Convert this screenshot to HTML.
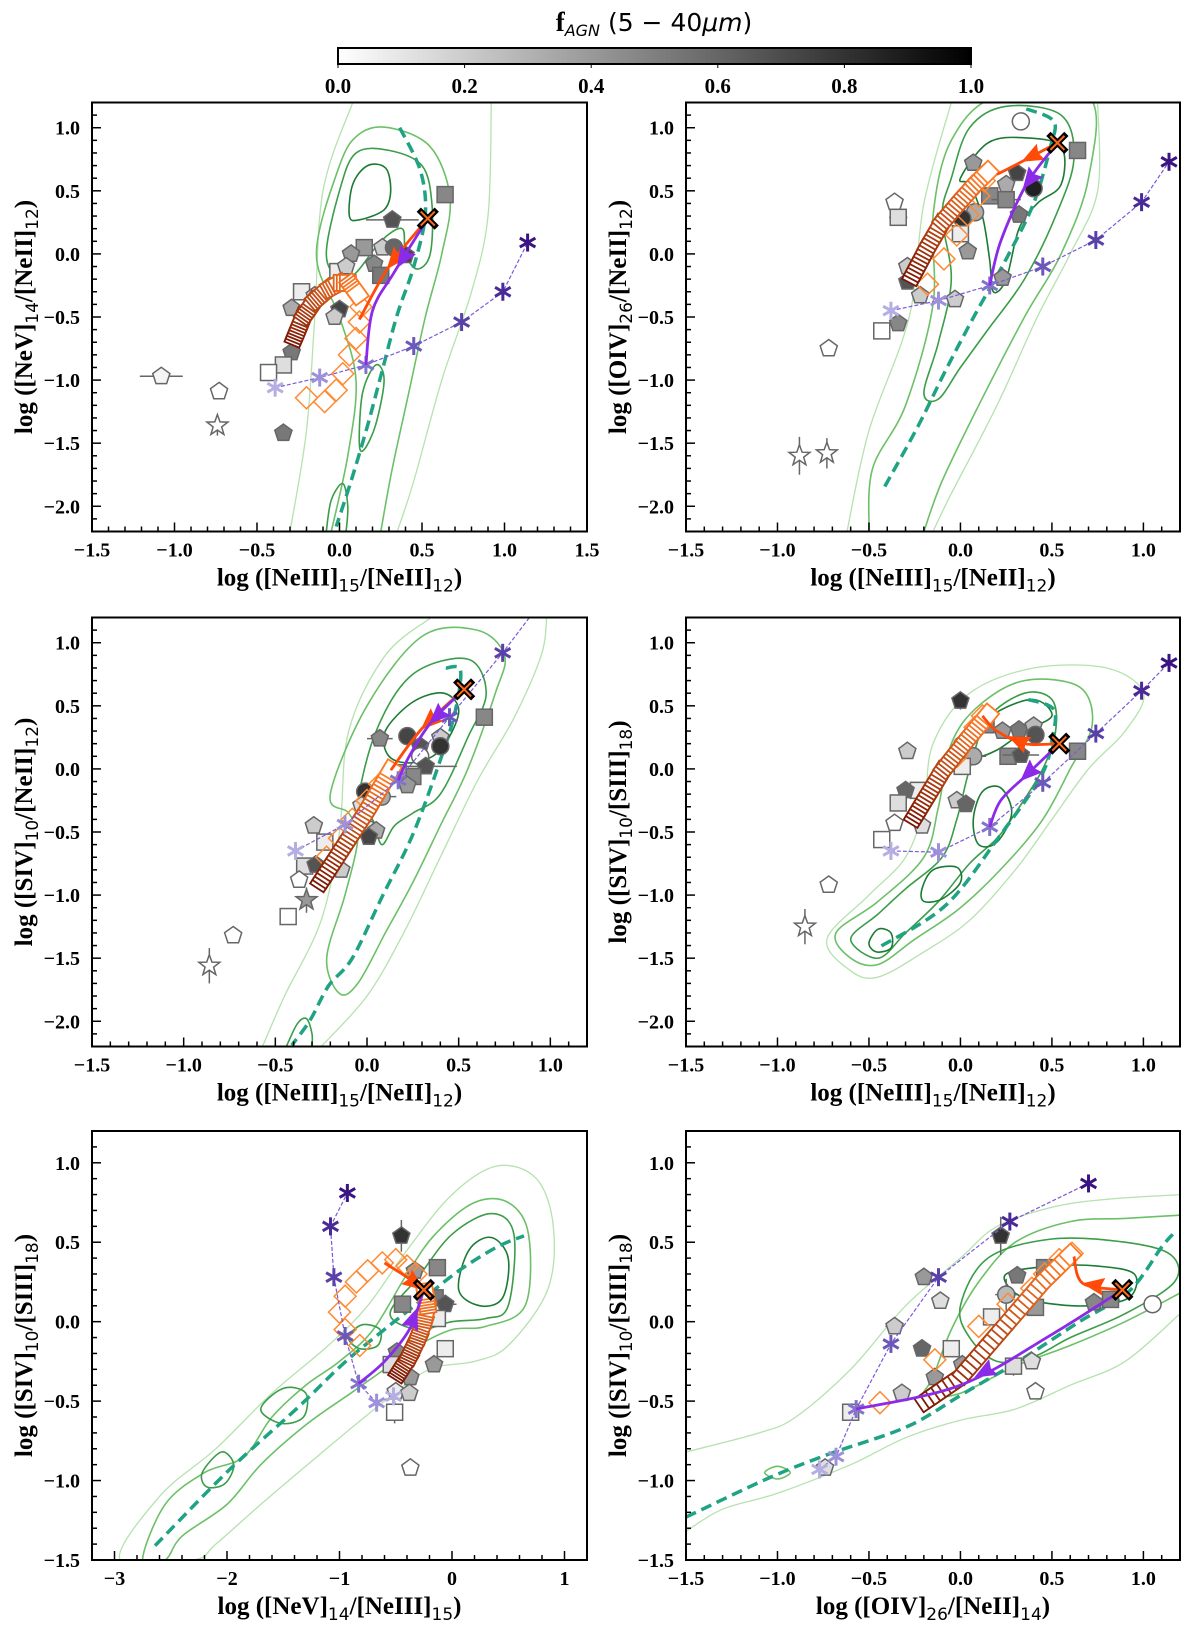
<!DOCTYPE html>
<html><head><meta charset="utf-8">
<style>
html,body{margin:0;padding:0;background:#fff;}
svg{display:block;}
</style></head>
<body>
<svg id="fig" xmlns="http://www.w3.org/2000/svg" width="1200" height="1633" viewBox="0 0 1200 1633">
<defs>
<linearGradient id="cbgrad" x1="0" x2="1" y1="0" y2="0"><stop offset="0" stop-color="#ffffff"/><stop offset="1" stop-color="#000000"/></linearGradient>
</defs>
<g>
<text x="654" y="31" text-anchor="middle" font-family="'DejaVu Sans', sans-serif" font-size="25"><tspan font-family="'Liberation Serif', serif" font-weight="bold" font-size="27">f</tspan><tspan font-style="italic" font-size="16" dy="5">AGN</tspan><tspan dy="-5"> (5 − 40</tspan><tspan font-style="italic">μm</tspan><tspan>)</tspan></text>
<rect x="338" y="48" width="633" height="16" fill="url(#cbgrad)" stroke="#000" stroke-width="2"/>
<g id="cbticks"></g>
</g>
<g id="panels"></g>
</svg>
<script>
// ---------- colorbar ----------
const cbTicks = [0.0, 0.2, 0.4, 0.6, 0.8, 1.0];

// ---------- shared model sequences ----------
const starColors = ['#b5aee3','#9d92da','#8273cc','#6c58bb','#5a40a9','#4a2a96','#3a1482'];

// ---------- Panel 1 data ----------
const p1Gray = [[0.32,0.27,'pent',0.67,0.16,0],[0.64,0.47,'sq',0.47,0,0],[0.15,0.05,'sq',0.4,0,0],[0.07,0.0,'pent',0.4,0,0],[0.26,0.05,'pent',0.2,0,0],[0.33,0.05,'circ',0.6,0,0],[0.4,-0.01,'pent',0.73,0,0],[0.21,-0.08,'pent',0.47,0,0],[0.25,-0.17,'sq',0.53,0,0],[-0.01,-0.14,'sq',0.07,0,0],[0.04,-0.1,'pent',0.2,0,0],[-0.23,-0.3,'sq',0.07,0,0],[-0.15,-0.33,'pent',0.2,0,0],[-0.29,-0.43,'pent',0.33,0,0],[0.0,-0.44,'pent',0.73,0,0],[-0.03,-0.5,'pent',0.2,0,0],[-0.29,-0.78,'pent',0.53,0,0],[-0.34,-0.88,'sq',0.13,0,0],[-0.43,-0.94,'sq',0.0,0,0],[-1.08,-0.97,'pent',0.04,0.13,0],[-0.73,-1.09,'pent',0.0,0,0],[-0.74,-1.36,'star',0.0,0,0.08],[-0.34,-1.42,'pent',0.53,0,0]];
const p1StarX = [-0.39,-0.12,0.16,0.45,0.74,0.99,1.14];
const p1StarY = [-1.06,-0.98,-0.88,-0.73,-0.54,-0.30,0.09];
const p1Agn = [0.535,0.28];
const p1Diam = [[-0.2,-1.14],[-0.09,-1.17],[-0.02,-1.08],[0.02,-0.95],[0.06,-0.8],[0.1,-0.67],[0.12,-0.54],[0.13,-0.42]];
const p1Track = [[-0.27,-0.66],[-0.22,-0.5],[-0.15,-0.37],[-0.07,-0.28],[0.0,-0.23],[0.06,-0.23],[0.11,-0.32]];
const p1Orange = [[0.535,0.28],[0.3,-0.1],[0.12,-0.52]];
const p1Purple = [[0.535,0.28],[0.33,-0.15],[0.2,-0.45],[0.16,-0.88]];
const p1Dash = [[0.365,1.0],[0.49,0.66],[0.52,0.31],[0.45,-0.1],[0.35,-0.48],[0.26,-0.92],[0.17,-1.36],[0.07,-1.8],[-0.02,-2.16]];
const p1C1 = [[0.06,0.3],[0.08,0.55],[0.17,0.7],[0.28,0.68],[0.31,0.5],[0.27,0.35],[0.12,0.27]];
const p1C1b = [[0.12,-1.5],[0.14,-1.1],[0.22,-0.88],[0.27,-1.0],[0.22,-1.35],[0.15,-1.55]];
const p1C1c = [[-0.08,-2.2],[-0.05,-1.95],[0.02,-1.82],[0.05,-2.0],[0.04,-2.2]];
const p1C2 = [[-0.08,0.0],[0.0,0.5],[0.1,0.8],[0.3,0.82],[0.5,0.7],[0.56,0.4],[0.55,0.0],[0.47,-0.12],[0.4,0.0],[0.38,0.2],[0.25,0.1],[0.1,-0.15],[0.0,-0.2]];
const p1C3 = [[0.25,-2.2],[0.32,-1.7],[0.42,-1.1],[0.52,-0.5],[0.62,0.0],[0.67,0.45],[0.55,0.85],[0.3,1.0],[0.12,0.95],[0.0,0.7],[-0.14,0.0],[0.0,-0.5],[0.1,-1.0],[0.05,-1.6],[-0.05,-2.2]];
const p1C4a = [[-0.3,-2.2],[-0.2,-1.4],[-0.15,-0.5],[-0.1,0.5],[0.08,1.2]];
const p1C4b = [[0.92,1.2],[0.9,0.3],[0.8,-0.3],[0.62,-1.0],[0.45,-1.8],[0.35,-2.2]];

// ---------- Panel 2 data ----------
const p2Gray = [[0.64,0.82,'sq',0.47,0,0],[0.33,1.05,'circ',0.0,0.04,0],[0.07,0.72,'pent',0.4,0,0],[0.31,0.64,'pent',0.73,0,0],[0.4,0.52,'circ',0.87,0,0],[0.25,0.55,'pent',0.33,0,0],[0.16,0.46,'sq',0.47,0,0],[0.25,0.43,'sq',0.47,0.08,0],[0.08,0.33,'circ',0.33,0,0.05],[0.32,0.31,'pent',0.53,0,0],[0.01,0.28,'circ',0.8,0,0],[0.0,0.16,'sq',0.07,0,0],[0.04,0.02,'pent',0.4,0,0],[-0.36,0.41,'pent',0.0,0,0],[-0.34,0.29,'sq',0.13,0.05,0],[-0.29,-0.1,'pent',0.2,0,0],[-0.29,-0.22,'pent',0.67,0,0],[-0.22,-0.33,'pent',0.2,0,0],[-0.03,-0.36,'pent',0.2,0,0],[0.23,-0.19,'pent',0.4,0,0],[-0.34,-0.55,'pent',0.47,0,0],[-0.43,-0.61,'sq',0.0,0,0],[-0.72,-0.75,'pent',0.0,0,0],[-0.88,-1.6,'star',0.0,0,0.15],[-0.73,-1.58,'star',0.0,0,0.12]];
const p2StarX = [-0.38,-0.12,0.16,0.45,0.74,0.99,1.14];
const p2StarY = [-0.45,-0.37,-0.25,-0.10,0.11,0.41,0.73];
const p2Agn = [0.53,0.88];
const p2Diam = [[-0.18,-0.24],[-0.09,-0.04],[-0.02,0.15],[0.04,0.31],[0.1,0.46],[0.13,0.58]];
const p2Track = [[-0.26,-0.17],[-0.18,0.05],[-0.1,0.25],[0.0,0.42],[0.08,0.55],[0.15,0.65]];
const p2Orange = [[0.53,0.88],[0.4,0.78],[0.2,0.63]];
const p2Purple = [[0.53,0.88],[0.36,0.55],[0.22,0.1],[0.16,-0.25]];
const p2Dash = [[0.36,1.15],[0.51,1.05],[0.49,0.84],[0.4,0.4],[0.25,-0.04],[0.08,-0.48],[-0.08,-0.92],[-0.23,-1.36],[-0.42,-1.86]];
const p2C1 = [[0.0,0.6],[0.15,0.88],[0.35,0.92],[0.55,0.85],[0.55,0.55],[0.42,0.4],[0.32,0.2],[0.25,-0.2],[0.18,-0.3],[0.16,-0.05],[0.12,0.3],[0.05,0.55]];
const p2C2 = [[-0.05,0.6],[0.05,1.0],[0.25,1.17],[0.55,1.1],[0.62,0.75],[0.52,0.3],[0.35,-0.2],[0.15,-0.6],[0.0,-0.9],[-0.12,-1.15],[-0.2,-1.1],[-0.12,-0.7],[-0.05,-0.2],[-0.1,0.3]];
const p2C3 = [[-0.5,-2.2],[-0.48,-1.7],[-0.3,-1.2],[-0.15,-0.4],[-0.15,0.3],[-0.05,0.9],[0.2,1.25],[0.7,1.25],[0.7,0.6],[0.55,0.0],[0.35,-0.5],[0.1,-1.2],[-0.1,-1.8],[-0.2,-2.2]];
const p2C4a = [[-0.62,-2.2],[-0.5,-1.4],[-0.28,-0.5],[-0.2,0.4],[-0.05,1.2]];
const p2C4b = [[0.75,1.2],[0.75,0.5],[0.6,0.0],[0.42,-0.5],[0.2,-1.2],[-0.05,-1.9],[-0.15,-2.2]];

// ---------- Panel 3 data ----------
const p3Gray = [[0.64,0.41,'sq',0.47,0,0],[0.07,0.24,'pent',0.47,0.07,0],[0.22,0.26,'circ',0.73,0,0.05],[0.4,0.25,'pent',0.2,0,0],[0.4,0.18,'circ',0.8,0,0],[0.29,0.18,'pent',0.67,0,0],[0.29,0.1,'circ',0.0,0,0],[0.32,0.02,'pent',0.67,0.17,0],[0.25,-0.06,'sq',0.47,0,0],[0.17,-0.03,'sq',0.33,0,0],[0.22,-0.13,'pent',0.4,0,0],[-0.01,-0.18,'circ',0.8,0,0],[0.08,-0.22,'circ',0.33,0.08,0],[-0.03,-0.29,'pent',0.13,0,0],[-0.01,-0.48,'sq',0.07,0,0],[0.05,-0.49,'pent',0.33,0,0],[0.01,-0.54,'pent',0.73,0,0.05],[-0.29,-0.45,'pent',0.2,0,0],[-0.23,-0.58,'sq',0.07,0,0],[-0.34,-0.77,'sq',0.13,0.04,0],[-0.28,-0.76,'pent',0.67,0,0],[-0.14,-0.8,'pent',0.2,0,0],[-0.37,-0.88,'pent',0.0,0,0],[-0.33,-1.04,'star',0.4,0,0.1],[-0.43,-1.17,'sq',0.0,0,0],[-0.73,-1.32,'pent',0.0,0,0],[-0.86,-1.56,'star',0.0,0,0.14]];
const p3StarX = [-0.39,-0.12,0.17,0.45,0.74,0.99,1.14];
const p3StarY = [-0.65,-0.44,-0.09,0.41,0.92,1.4,1.7];
const p3Agn = [0.53,0.63];
const p3Diam = [[-0.22,-0.7],[-0.15,-0.55],[-0.08,-0.4],[0.0,-0.25],[0.07,-0.12]];
const p3Track = [[-0.25,-0.89],[-0.12,-0.6],[0.0,-0.33],[0.13,-0.01]];
const p3Orange = [[0.53,0.63],[0.3,0.32],[0.13,-0.01]];
const p3Purple = [[0.53,0.63],[0.35,0.37],[0.23,0.1],[0.17,-0.09]];
const p3Dash = [[0.43,0.8],[0.51,0.78],[0.48,0.45],[0.4,0.07],[0.25,-0.52],[0.08,-1.02],[-0.08,-1.5],[-0.21,-1.72],[-0.31,-1.99],[-0.41,-2.19]];
const p3C1 = [[0.1,0.3],[0.25,0.53],[0.42,0.6],[0.5,0.45],[0.4,0.15],[0.25,0.05],[0.12,0.1]];
const p3C2 = [[-0.05,-0.3],[0.05,0.3],[0.25,0.75],[0.55,0.87],[0.65,0.6],[0.55,0.25],[0.4,-0.2],[0.25,-0.35],[0.15,-0.45],[0.08,-0.6],[0.03,-0.4]];
const p3C2b = [[-0.44,-2.2],[-0.38,-2.02],[-0.33,-1.98],[-0.3,-2.1],[-0.3,-2.2]];
const p3C3 = [[-0.2,-0.2],[0.0,0.5],[0.3,1.05],[0.6,1.1],[0.75,0.9],[0.7,0.6],[0.55,0.0],[0.4,-0.45],[0.25,-0.9],[0.1,-1.3],[-0.05,-1.7],[-0.15,-1.78],[-0.22,-1.5],[-0.12,-1.0],[-0.05,-0.55],[-0.1,-0.35]];
const p3C4a = [[-0.57,-2.2],[-0.45,-1.8],[-0.25,-1.2],[-0.15,-0.5],[-0.1,0.3],[0.1,0.9],[0.35,1.2]];
const p3C4b = [[0.98,1.2],[0.95,0.9],[0.8,0.4],[0.6,-0.1],[0.4,-0.7],[0.2,-1.3],[0.0,-1.8],[-0.25,-2.2]];

// ---------- Panel 4 data ----------
const p4Gray = [[0.64,0.14,'sq',0.47,0,0],[0.0,0.54,'pent',0.8,0,0.07],[-0.29,0.14,'pent',0.2,0,0],[0.14,0.35,'sq',0.47,0,0],[0.23,0.3,'pent',0.4,0,0],[0.32,0.31,'pent',0.53,0,0],[0.4,0.34,'pent',0.27,0,0],[0.41,0.27,'circ',0.67,0,0],[0.01,0.19,'circ',0.27,0,0],[0.07,0.1,'circ',0.33,0.07,0],[0.26,0.1,'sq',0.47,0,0],[0.33,0.11,'pent',0.67,0.1,0],[0.01,0.02,'sq',0.07,0,0],[-0.23,-0.17,'sq',0.07,0,0],[-0.3,-0.17,'pent',0.6,0,0],[-0.34,-0.27,'sq',0.13,0.04,0],[-0.02,-0.25,'pent',0.2,0,0],[0.03,-0.28,'pent',0.6,0,0.05],[-0.36,-0.43,'pent',0.0,0,0],[-0.21,-0.45,'pent',0.13,0,0],[-0.43,-0.56,'sq',0.0,0,0],[-0.72,-0.92,'pent',0.0,0,0],[-0.85,-1.25,'star',0.0,0,0.14]];
const p4StarX = [-0.38,-0.12,0.16,0.45,0.74,0.99,1.14];
const p4StarY = [-0.65,-0.66,-0.46,-0.11,0.28,0.62,0.84];
const p4Agn = [0.54,0.2];
const p4Diam = [[-0.02,0.1],[0.03,0.22],[0.08,0.33],[0.12,0.42]];
const p4Track = [[-0.25,-0.38],[-0.1,-0.02],[0.03,0.22],[0.15,0.43]];
const p4Orange = [[0.54,0.2],[0.35,0.2],[0.2,0.3],[0.12,0.42]];
const p4Purple = [[0.54,0.2],[0.36,-0.05],[0.22,-0.25],[0.16,-0.46]];
const p4Dash = [[0.37,0.55],[0.51,0.47],[0.5,0.23],[0.44,-0.06],[0.21,-0.54],[-0.08,-1.08],[-0.44,-1.41]];
const p4C1 = [[0.05,0.25],[0.2,0.45],[0.4,0.55],[0.5,0.42],[0.35,0.3],[0.2,0.15],[0.08,0.1]];
const p4C1b = [[0.07,-0.4],[0.12,-0.18],[0.22,-0.15],[0.28,-0.35],[0.2,-0.58],[0.1,-0.6]];
const p4C1c = [[-0.21,-0.95],[-0.15,-0.8],[-0.02,-0.78],[0.0,-0.9],[-0.1,-1.03],[-0.2,-1.05]];
const p4C1d = [[-0.5,-1.38],[-0.45,-1.27],[-0.38,-1.3],[-0.38,-1.42],[-0.46,-1.45]];
const p4C2 = [[-0.45,-1.5],[-0.6,-1.35],[-0.45,-1.15],[-0.3,-0.95],[-0.1,-0.7],[-0.02,-0.4],[0.05,0.0],[0.15,0.4],[0.35,0.6],[0.5,0.55],[0.52,0.3],[0.45,0.0],[0.3,-0.35],[0.2,-0.55],[0.05,-0.75],[-0.12,-1.05],[-0.3,-1.3]];
const p4C3 = [[-0.6,-1.5],[-0.68,-1.3],[-0.45,-1.05],[-0.2,-0.7],[-0.12,-0.3],[-0.05,0.2],[0.1,0.5],[0.35,0.7],[0.65,0.65],[0.72,0.35],[0.6,0.0],[0.45,-0.4],[0.25,-0.75],[0.0,-1.1],[-0.25,-1.35],[-0.45,-1.55]];
const p4C4 = [[-0.6,-1.6],[-0.73,-1.35],[-0.5,-1.0],[-0.3,-0.7],[-0.2,-0.3],[-0.15,0.2],[0.05,0.6],[0.4,0.8],[0.8,0.8],[1.0,0.6],[0.9,0.3],[0.7,0.0],[0.5,-0.4],[0.3,-0.8],[0.05,-1.2],[-0.2,-1.45],[-0.45,-1.65]];

// ---------- Panel 5 data ----------
const p5Gray = [[-0.45,0.54,'pent',0.8,0,0.1],[-0.13,0.34,'sq',0.47,0,0],[-0.33,0.32,'pent',0.4,0,0],[-0.15,0.15,'sq',0.53,0,0],[-0.06,0.11,'pent',0.67,0.1,0],[-0.44,0.11,'sq',0.47,0,0],[-0.13,0.02,'sq',0.07,0,0],[-0.06,-0.17,'sq',0.07,0,0],[-0.49,-0.19,'pent',0.47,0,0],[-0.54,-0.27,'sq',0.13,0,0.06],[-0.16,-0.27,'pent',0.4,0,0.05],[-0.37,-0.35,'pent',0.4,0,0],[-0.5,-0.44,'pent',0.07,0,0],[-0.38,-0.45,'pent',0.2,0,0],[-0.51,-0.57,'sq',0.0,0,0.07],[-0.37,-0.92,'pent',0.0,0,0]];
const p5StarX = [-0.52,-0.67,-0.83,-0.95,-1.05,-1.08,-0.93];
const p5StarY = [-0.47,-0.51,-0.39,-0.09,0.28,0.60,0.81];
const p5Agn = [-0.25,0.2];
const p5Diam = [[-0.82,-0.15],[-0.95,-0.05],[-1.0,0.06],[-0.95,0.16],[-0.85,0.25],[-0.75,0.32],[-0.62,0.37],[-0.5,0.39],[-0.4,0.35],[-0.32,0.3]];
const p5Track = [[-0.47,-0.32],[-0.38,-0.22],[-0.3,-0.1],[-0.25,0.0],[-0.22,0.1],[-0.24,0.19]];
const p5Orange = [[-0.6,0.37],[-0.4,0.28],[-0.25,0.2]];
const p5Purple = [[-0.83,-0.39],[-0.6,-0.25],[-0.38,-0.05],[-0.25,0.2]];
const p5Dash = [[-2.64,-1.41],[-1.99,-0.94],[-1.37,-0.54],[-0.96,-0.26],[-0.62,-0.06],[-0.28,0.13],[0.06,0.32],[0.4,0.47],[0.64,0.54]];
const p5C1 = [[0.06,0.2],[0.15,0.45],[0.35,0.53],[0.5,0.4],[0.45,0.15],[0.25,0.1]];
const p5C2 = [[-0.55,0.05],[-0.3,0.28],[0.0,0.55],[0.35,0.68],[0.55,0.55],[0.5,0.1],[0.3,0.02],[0.0,0.0],[-0.3,-0.05]];
const p5C2b = [[-0.92,-0.1],[-0.8,-0.02],[-0.64,-0.05],[-0.66,-0.15],[-0.82,-0.17]];
const p5C2c = [[-1.7,-0.55],[-1.5,-0.42],[-1.3,-0.45],[-1.32,-0.6],[-1.52,-0.64]];
const p5C2d = [[-2.22,-0.95],[-2.05,-0.82],[-1.94,-0.9],[-2.02,-1.02],[-2.18,-1.04]];
const p5C3 = [[-2.75,-1.5],[-2.55,-1.15],[-2.2,-0.95],[-1.85,-0.85],[-1.6,-0.6],[-1.3,-0.4],[-1.0,-0.25],[-0.7,-0.05],[-0.4,0.3],[-0.15,0.55],[0.2,0.75],[0.5,0.75],[0.68,0.55],[0.65,0.1],[0.3,-0.03],[0.0,-0.05],[-0.3,-0.15],[-0.6,-0.3],[-0.9,-0.45],[-1.3,-0.65],[-1.7,-0.9],[-2.0,-1.15],[-2.4,-1.35],[-2.55,-1.5]];
const p5C4 = [[-2.95,-1.5],[-2.6,-1.1],[-2.1,-0.8],[-1.6,-0.45],[-1.1,-0.15],[-0.75,0.1],[-0.4,0.45],[0.0,0.8],[0.4,0.98],[0.75,0.9],[0.9,0.6],[0.85,0.2],[0.5,-0.15],[0.2,-0.25],[-0.2,-0.3],[-0.6,-0.5],[-1.2,-0.85],[-1.7,-1.15],[-2.1,-1.4],[-2.3,-1.5]];

// ---------- Panel 6 data ----------
const p6Gray = [[1.05,0.11,'circ',0.0,0.05,0],[0.22,0.54,'pent',0.8,0,0.12],[-0.2,0.28,'pent',0.4,0,0.05],[-0.11,0.13,'pent',0.13,0,0],[0.31,0.29,'pent',0.53,0,0],[0.46,0.34,'sq',0.47,0,0],[0.25,0.17,'circ',0.27,0.06,0.1],[0.33,0.09,'pent',0.4,0,0],[0.41,0.09,'sq',0.4,0,0],[0.73,0.12,'pent',0.47,0,0],[0.82,0.14,'sq',0.47,0,0],[-0.36,-0.03,'pent',0.2,0.05,0],[-0.21,-0.17,'pent',0.6,0,0.05],[-0.05,-0.17,'sq',0.07,0,0],[0.17,0.03,'sq',0.07,0,0],[0.01,-0.27,'pent',0.4,0,0],[0.29,-0.28,'sq',0.13,0,0.06],[0.39,-0.25,'pent',0.13,0,0],[-0.14,-0.35,'pent',0.4,0,0],[-0.32,-0.45,'pent',0.2,0,0],[0.41,-0.44,'pent',0.0,0,0],[-0.6,-0.57,'sq',0.07,0,0],[-0.74,-0.92,'pent',0.13,0,0]];
const p6StarX = [-0.77,-0.68,-0.57,-0.38,-0.12,0.27,0.70];
const p6StarY = [-0.93,-0.85,-0.55,-0.14,0.28,0.63,0.87];
const p6Agn = [0.885,0.2];
const p6Diam = [[-0.44,-0.51],[-0.14,-0.24],[0.1,-0.03],[0.26,0.11],[0.39,0.21],[0.46,0.3],[0.54,0.39],[0.61,0.43]];
const p6Track = [[-0.19,-0.5],[0.0,-0.35],[0.15,-0.15],[0.3,0.05],[0.45,0.25],[0.6,0.42]];
const p6Orange = [[0.885,0.2],[0.67,0.24],[0.62,0.41]];
const p6Purple = [[0.885,0.2],[0.5,-0.08],[0.0,-0.4],[-0.57,-0.55]];
const p6Dash = [[-1.5,-1.23],[-1.04,-0.98],[-0.71,-0.83],[-0.29,-0.66],[0.02,-0.45],[0.33,-0.24],[0.65,0.0],[0.92,0.19],[1.1,0.47],[1.16,0.55]];
const p6C1 = [[0.25,0.3],[0.5,0.35],[0.75,0.35],[0.95,0.3],[0.92,0.15],[0.7,0.1],[0.45,0.12],[0.3,0.18]];
const p6C2 = [[0.0,0.1],[0.15,0.4],[0.5,0.52],[0.9,0.5],[1.15,0.42],[1.17,0.25],[0.9,0.05],[0.6,-0.1],[0.4,-0.22],[0.2,-0.25],[0.05,-0.1]];
const p6C2b = [[-1.07,-0.95],[-1.0,-0.91],[-0.93,-0.95],[-1.0,-0.99]];
const p6C3 = [[1.2,0.67],[0.9,0.65],[0.6,0.63],[0.3,0.5],[0.1,0.25],[-0.05,-0.05],[-0.15,-0.35],[-0.2,-0.47],[0.0,-0.45],[0.3,-0.28],[0.6,-0.15],[0.9,0.0],[1.2,0.18]];
const p6C4a = [[-1.5,-0.82],[-1.1,-0.7],[-0.9,-0.6],[-0.6,-0.3],[-0.3,0.1],[0.0,0.4],[0.2,0.6],[0.5,0.72],[0.8,0.77],[1.2,0.8]];
const p6C4b = [[-1.5,-1.32],[-1.3,-1.18],[-1.0,-1.08],[-0.6,-0.9],[-0.3,-0.73],[0.0,-0.62],[0.3,-0.55],[0.6,-0.4],[0.9,-0.25],[1.2,0.05]];

const NS = 'http://www.w3.org/2000/svg';
const G1 = '#1b7a34', G2 = '#3a9d48', G3 = '#6cc068', G4 = '#b5e2ae';

function mk(parent, tag, attrs) {
  const e = document.createElementNS(NS, tag);
  for (const k in attrs) e.setAttribute(k, attrs[k]);
  parent.appendChild(e);
  return e;
}
function fmt(v, dec) { const s = Math.abs(v).toFixed(dec); return (v < -1e-9 ? '\u2212' : '') + s; }
function grayOf(f) { const g = Math.round(255 * (1 - f)); return 'rgb(' + g + ',' + g + ',' + g + ')'; }
function smooth(pts, closed) {
  const n = pts.length; if (n < 2) return '';
  const P = i => closed ? pts[(i + n) % n] : pts[Math.max(0, Math.min(n - 1, i))];
  let d = 'M' + pts[0][0].toFixed(1) + ',' + pts[0][1].toFixed(1);
  const segs = closed ? n : n - 1;
  for (let i = 0; i < segs; i++) {
    const p0 = P(i - 1), p1 = P(i), p2 = P(i + 1), p3 = P(i + 2);
    const c1 = [p1[0] + (p2[0] - p0[0]) / 6, p1[1] + (p2[1] - p0[1]) / 6];
    const c2 = [p2[0] - (p3[0] - p1[0]) / 6, p2[1] - (p3[1] - p1[1]) / 6];
    d += 'C' + c1[0].toFixed(1) + ',' + c1[1].toFixed(1) + ' ' + c2[0].toFixed(1) + ',' + c2[1].toFixed(1) + ' ' + p2[0].toFixed(1) + ',' + p2[1].toFixed(1);
  }
  return closed ? d + 'Z' : d;
}
function resample(pts, n) {
  const L = [0]; for (let i = 1; i < pts.length; i++) L.push(L[i - 1] + Math.hypot(pts[i][0] - pts[i - 1][0], pts[i][1] - pts[i - 1][1]));
  const tot = L[L.length - 1]; const out = [];
  for (let k = 0; k < n; k++) {
    const s = tot * k / (n - 1); let i = 1; while (i < L.length - 1 && L[i] < s) i++;
    const t = (s - L[i - 1]) / ((L[i] - L[i - 1]) || 1);
    const x = pts[i - 1][0] + t * (pts[i][0] - pts[i - 1][0]), y = pts[i - 1][1] + t * (pts[i][1] - pts[i - 1][1]);
    out.push([x, y, Math.atan2(pts[i][1] - pts[i - 1][1], pts[i][0] - pts[i - 1][0])]);
  }
  return out;
}
function lerpColor(a, b, t) {
  const pa = [parseInt(a.substr(1, 2), 16), parseInt(a.substr(3, 2), 16), parseInt(a.substr(5, 2), 16)];
  const pb = [parseInt(b.substr(1, 2), 16), parseInt(b.substr(3, 2), 16), parseInt(b.substr(5, 2), 16)];
  return 'rgb(' + pa.map((v, i) => Math.round(v + (pb[i] - v) * t)).join(',') + ')';
}

// colorbar ticks
(function () {
  const g = document.getElementById('cbticks');
  cbTicks.forEach(v => {
    const x = 338 + v * 633;
    const t = mk(g, 'line', { x1: x, x2: x, y1: 64, y2: 68, stroke: '#000', 'stroke-width': 1 });
    
    
    const l = mk(g, 'text', { x: x, y: 93, 'text-anchor': 'middle', 'font-family': "'Liberation Serif', serif", 'font-weight': 'bold', 'font-size': 21 });
    l.textContent = v.toFixed(1);
    
    
  });
})();

function labelText(parent, x, y, parts, rot) {
  const t = mk(parent, 'text', { x: x, y: y, 'text-anchor': 'middle', 'font-family': "'Liberation Serif', serif", 'font-weight': 'bold', 'font-size': 25 });
  if (rot) t.setAttribute('transform', 'rotate(-90 ' + x + ' ' + y + ')');
  parts.forEach(p => {
    const s = document.createElementNS(NS, 'tspan');
    if (p[1]) { s.setAttribute('font-family', "'DejaVu Sans', sans-serif"); s.setAttribute('font-weight', 'normal'); s.setAttribute('font-size', 17); s.setAttribute('dy', 6); }
    else if (p[2]) s.setAttribute('dy', -6);
    s.textContent = p[0];
    t.appendChild(s);
  });
  return t;
}

const panels = [
  { id: 'p1', L: 92, R: 587, T: 102.5, B: 531.5, xlim: [-1.5, 1.5], ylim: [-2.2, 1.2], xt: [-1.5, -1, -0.5, 0, 0.5, 1, 1.5], xmin: 0.1, xdec: 1, yt: [-2, -1.5, -1, -0.5, 0, 0.5, 1], ymin: 0.1,
    xl: [['log ([NeIII]'], ['15', 1], ['/[NeII]', 0, 1], ['12', 1], [')', 0, 1]], yl: [['log ([NeV]'], ['14', 1], ['/[NeII]', 0, 1], ['12', 1], [')', 0, 1]],
    gray: p1Gray, sx: p1StarX, sy: p1StarY, agn: p1Agn, diam: p1Diam, track: p1Track, orange: p1Orange, purple: p1Purple, dash: p1Dash, oHead: 0.45, pHead: 0.3,
    cont: [[p1C4a, G4, 0], [p1C4b, G4, 0], [p1C3, G3, 0], [p1C2, G2, 1], [p1C1, G1, 1], [p1C1b, G2, 1], [p1C1c, G2, 0]] },
  { id: 'p2', L: 686, R: 1180, T: 102.5, B: 531.5, xlim: [-1.5, 1.2], ylim: [-2.2, 1.2], xt: [-1.5, -1, -0.5, 0, 0.5, 1], xmin: 0.1, xdec: 1, yt: [-2, -1.5, -1, -0.5, 0, 0.5, 1], ymin: 0.1,
    xl: [['log ([NeIII]'], ['15', 1], ['/[NeII]', 0, 1], ['12', 1], [')', 0, 1]], yl: [['log ([OIV]'], ['26', 1], ['/[NeII]', 0, 1], ['12', 1], [')', 0, 1]],
    gray: p2Gray, sx: p2StarX, sy: p2StarY, agn: p2Agn, diam: p2Diam, track: p2Track, orange: p2Orange, purple: p2Purple, dash: p2Dash, oHead: 0.45, pHead: 0.3,
    cont: [[p2C4a, G4, 0], [p2C4b, G4, 0], [p2C3, G3, 0], [p2C2, G2, 1], [p2C1, G1, 1]] },
  { id: 'p3', L: 92, R: 587, T: 617.5, B: 1046.5, xlim: [-1.5, 1.2], ylim: [-2.2, 1.2], xt: [-1.5, -1, -0.5, 0, 0.5, 1], xmin: 0.1, xdec: 1, yt: [-2, -1.5, -1, -0.5, 0, 0.5, 1], ymin: 0.1,
    xl: [['log ([NeIII]'], ['15', 1], ['/[NeII]', 0, 1], ['12', 1], [')', 0, 1]], yl: [['log ([SIV]'], ['10', 1], ['/[NeII]', 0, 1], ['12', 1], [')', 0, 1]],
    gray: p3Gray, sx: p3StarX, sy: p3StarY, agn: p3Agn, diam: p3Diam, track: p3Track, orange: p3Orange, purple: p3Purple, dash: p3Dash, oHead: 0.45, pHead: 0.35,
    cont: [[p3C4a, G4, 0], [p3C4b, G4, 0], [p3C3, G3, 1], [p3C2, G2, 1], [p3C2b, G2, 0], [p3C1, G1, 1]] },
  { id: 'p4', L: 686, R: 1180, T: 617.5, B: 1046.5, xlim: [-1.5, 1.2], ylim: [-2.2, 1.2], xt: [-1.5, -1, -0.5, 0, 0.5, 1], xmin: 0.1, xdec: 1, yt: [-2, -1.5, -1, -0.5, 0, 0.5, 1], ymin: 0.1,
    xl: [['log ([NeIII]'], ['15', 1], ['/[NeII]', 0, 1], ['12', 1], [')', 0, 1]], yl: [['log ([SIV]'], ['10', 1], ['/[SIII]', 0, 1], ['18', 1], [')', 0, 1]],
    gray: p4Gray, sx: p4StarX, sy: p4StarY, agn: p4Agn, diam: p4Diam, track: p4Track, orange: p4Orange, purple: p4Purple, dash: p4Dash, oHead: 0.5, pHead: 0.4,
    cont: [[p4C4, G4, 1], [p4C3, G3, 1], [p4C2, G2, 1], [p4C1, G1, 1], [p4C1b, G1, 1], [p4C1c, G1, 1], [p4C1d, G1, 1]] },
  { id: 'p5', L: 92, R: 587, T: 1131, B: 1560, xlim: [-3.2, 1.2], ylim: [-1.5, 1.2], xt: [-3, -2, -1, 0, 1], xmin: 0.2, xdec: 0, yt: [-1.5, -1, -0.5, 0, 0.5, 1], ymin: 0.1,
    xl: [['log ([NeV]'], ['14', 1], ['/[NeIII]', 0, 1], ['15', 1], [')', 0, 1]], yl: [['log ([SIV]'], ['10', 1], ['/[SIII]', 0, 1], ['18', 1], [')', 0, 1]],
    gray: p5Gray, sx: p5StarX, sy: p5StarY, agn: p5Agn, diam: p5Diam, track: p5Track, orange: p5Orange, purple: p5Purple, dash: p5Dash, oHead: 0.8, pHead: 0.75,
    cont: [[p5C4, G4, 1], [p5C3, G3, 1], [p5C2, G2, 1], [p5C2b, G2, 1], [p5C2c, G2, 1], [p5C2d, G2, 1], [p5C1, G1, 1]] },
  { id: 'p6', L: 686, R: 1180, T: 1131, B: 1560, xlim: [-1.5, 1.2], ylim: [-1.5, 1.2], xt: [-1.5, -1, -0.5, 0, 0.5, 1], xmin: 0.1, xdec: 1, yt: [-1.5, -1, -0.5, 0, 0.5, 1], ymin: 0.1,
    xl: [['log ([OIV]'], ['26', 1], ['/[NeII]', 0, 1], ['14', 1], [')', 0, 1]], yl: [['log ([SIV]'], ['10', 1], ['/[SIII]', 0, 1], ['18', 1], [')', 0, 1]],
    gray: p6Gray, sx: p6StarX, sy: p6StarY, agn: p6Agn, diam: p6Diam, track: p6Track, orange: p6Orange, purple: p6Purple, dash: p6Dash, oHead: 0.45, pHead: 0.55,
    cont: [[p6C4a, G4, 0], [p6C4b, G4, 0], [p6C3, G3, 0], [p6C2, G2, 1], [p6C2b, G3, 1], [p6C1, G1, 1]] }
];

const root = document.getElementById('panels');
const defs = document.querySelector('defs');

panels.forEach(P => {
  const sx = v => P.L + (v - P.xlim[0]) / (P.xlim[1] - P.xlim[0]) * (P.R - P.L);
  const sy = v => P.B - (v - P.ylim[0]) / (P.ylim[1] - P.ylim[0]) * (P.B - P.T);
  const px = pts => pts.map(p => [sx(p[0]), sy(p[1])]);

  const cp = mk(defs, 'clipPath', { id: 'clip-' + P.id });
  mk(cp, 'rect', { x: P.L, y: P.T, width: P.R - P.L, height: P.B - P.T });

  const g = mk(root, 'g', {});
  
  
  const pl = mk(g, 'g', { 'clip-path': 'url(#clip-' + P.id + ')' });
  
  

  P.cont.forEach(c => {
    const e = mk(pl, 'path', { d: smooth(px(c[0]), !!c[2]), fill: 'none', stroke: c[1], 'stroke-width': c[1] === G4 ? 1.3 : 1.6 });
    
    
  });
  const dl = mk(pl, 'path', { d: smooth(px(P.dash), false), fill: 'none', stroke: '#1fa383', 'stroke-width': 3.5, 'stroke-dasharray': '11,6' });
  
  

  P.gray.forEach(m => {
    const x = sx(m[0]), y = sy(m[1]);
    const mg = mk(pl, 'g', {});
    
    
    if (m[4]) mk(mg, 'line', { x1: sx(m[0] - m[4]), x2: sx(m[0] + m[4]), y1: y, y2: y, stroke: '#666', 'stroke-width': 1.5 });
    if (m[5]) mk(mg, 'line', { x1: x, x2: x, y1: sy(m[1] - m[5]), y2: sy(m[1] + m[5]), stroke: '#666', 'stroke-width': 1.5 });
    const st = { fill: grayOf(m[3]), stroke: '#666', 'stroke-width': 1.5 };
    if (m[2] === 'sq') mk(mg, 'rect', Object.assign({ x: x - 8, y: y - 8, width: 16, height: 16 }, st));
    else if (m[2] === 'circ') mk(mg, 'circle', Object.assign({ cx: x, cy: y, r: 8.5 }, st));
    else {
      const n = m[2] === 'star' ? 10 : 5; let pts = [];
      for (let k = 0; k < n; k++) {
        const a = -Math.PI / 2 + k * 2 * Math.PI / n;
        const r = m[2] === 'star' ? (k % 2 ? 4.5 : 11) : 9;
        pts.push((x + r * Math.cos(a)).toFixed(1) + ',' + (y + r * Math.sin(a)).toFixed(1));
      }
      mk(mg, 'polygon', Object.assign({ points: pts.join(' ') }, st));
    }
  });

  P.diam.forEach(d => {
    const x = sx(d[0]), y = sy(d[1]);
    const e = mk(pl, 'polygon', { points: [x, y - 11, x + 11, y, x, y + 11, x - 11, y].join(' '), fill: 'none', stroke: '#ff8a33', 'stroke-width': 1.5 });
    
    
  });

  const tp = px(P.track);
  const rs = resample(tp, 32);
  rs.forEach((q, k) => {
    const col = lerpColor('#7a1503', '#ff7b24', k / (rs.length - 1));
    const e = mk(pl, 'rect', { x: -8, y: -8, width: 16, height: 16, fill: '#fff', stroke: col, 'stroke-width': 1.8, transform: 'translate(' + q[0].toFixed(1) + ',' + q[1].toFixed(1) + ') rotate(' + (q[2] * 180 / Math.PI).toFixed(1) + ')' });
    
    
  });

  const spts = P.sx.map((v, i) => [sx(v), sy(P.sy[i])]);
  const sl = mk(pl, 'polyline', { points: spts.map(p => p[0].toFixed(1) + ',' + p[1].toFixed(1)).join(' '), fill: 'none', stroke: '#7c5ad6', 'stroke-width': 1.2, 'stroke-dasharray': '4,2' });
  
  
  spts.forEach((p, i) => {
    const sg = mk(pl, 'g', { stroke: starColors[i], 'stroke-width': 3, 'stroke-linecap': 'butt' });
    
    
    for (let k = 0; k < 3; k++) {
      const a = Math.PI / 2 + k * Math.PI / 3;
      mk(sg, 'line', { x1: p[0] - 9 * Math.cos(a), y1: p[1] - 9 * Math.sin(a), x2: p[0] + 9 * Math.cos(a), y2: p[1] + 9 * Math.sin(a) });
    }
  });

  function arrow(pts, col, frac, name) {
    const pp = px(pts);
    const ag = mk(pl, 'g', {});
    
    
    mk(ag, 'path', { d: smooth(pp, false), fill: 'none', stroke: col, 'stroke-width': 2.8 });
    const r = resample(pp, 41); const i = Math.round(frac * 40);
    const q = r[Math.min(40, Math.max(1, i))]; const a = q[2];
    const hx = q[0] + 10 * Math.cos(a), hy = q[1] + 10 * Math.sin(a);
    const bx = q[0] - 12 * Math.cos(a), by = q[1] - 12 * Math.sin(a);
    const nx = -Math.sin(a), ny = Math.cos(a);
    mk(ag, 'polygon', { points: [hx, hy, bx + 9 * nx, by + 9 * ny, bx + 3 * Math.cos(a), by + 3 * Math.sin(a), bx - 9 * nx, by - 9 * ny].map(v => v.toFixed(1)).join(' '), fill: col });
  }
  arrow(P.orange, '#ff4a08', P.oHead, 'orange-arrow');
  arrow(P.purple, '#8b2be8', P.pHead, 'purple-arrow');

  const ax = sx(P.agn[0]), ay = sy(P.agn[1]);
  const xg = mk(pl, 'g', {});
  
  
  mk(xg, 'path', { d: 'M' + (ax - 9) + ',' + (ay - 9) + 'L' + (ax + 9) + ',' + (ay + 9) + 'M' + (ax + 9) + ',' + (ay - 9) + 'L' + (ax - 9) + ',' + (ay + 9), stroke: '#000', 'stroke-width': 6 });
  mk(xg, 'path', { d: 'M' + (ax - 7) + ',' + (ay - 7) + 'L' + (ax + 7) + ',' + (ay + 7) + 'M' + (ax + 7) + ',' + (ay - 7) + 'L' + (ax - 7) + ',' + (ay + 7), stroke: '#ff6a1a', 'stroke-width': 2 });

  const fr = mk(g, 'rect', { x: P.L, y: P.T, width: P.R - P.L, height: P.B - P.T, fill: 'none', stroke: '#000', 'stroke-width': 2 });
  
  

  const tg = mk(g, 'g', { stroke: '#000', 'stroke-width': 1.5 });
  
  
  for (let v = P.xlim[0]; v <= P.xlim[1] + 1e-9; v += P.xmin) {
    const isMaj = P.xt.some(t => Math.abs(t - v) < 1e-6);
    const x = sx(v);
    mk(tg, 'line', { x1: x, x2: x, y1: P.B, y2: P.B - (isMaj ? 9 : 5) });
  }
  for (let v = P.ylim[0]; v <= P.ylim[1] + 1e-9; v += P.ymin) {
    const isMaj = P.yt.some(t => Math.abs(t - v) < 1e-6);
    const y = sy(v);
    mk(tg, 'line', { x1: P.L, x2: P.L + (isMaj ? 9 : 5), y1: y, y2: y });
  }
  P.xt.forEach(v => {
    const t = mk(g, 'text', { x: sx(v), y: P.B + 25, 'text-anchor': 'middle', 'font-family': "'Liberation Serif', serif", 'font-weight': 'bold', 'font-size': 20 });
    t.textContent = fmt(v, P.xdec);
    
    
  });
  P.yt.forEach(v => {
    const t = mk(g, 'text', { x: P.L - 12, y: sy(v) + 7, 'text-anchor': 'end', 'font-family': "'Liberation Serif', serif", 'font-weight': 'bold', 'font-size': 20 });
    t.textContent = fmt(v, 1);
    
    
  });
  const xl = labelText(g, (P.L + P.R) / 2, P.B + 54, P.xl, false);
  
  
  const yx = P.L - 60, yy = (P.T + P.B) / 2;
  const yl = labelText(g, yx, yy, P.yl, true);
  
  
});
</script>
</body></html>
